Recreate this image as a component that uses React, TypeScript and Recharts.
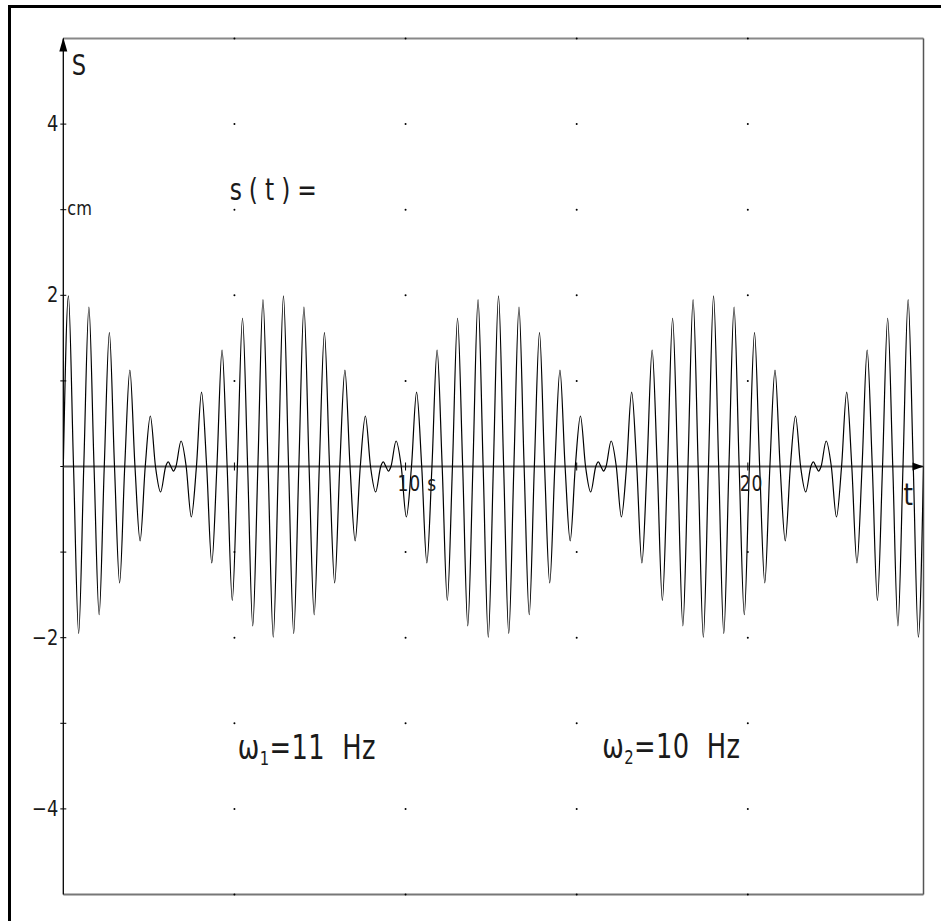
import React from 'react';
import { LineChart, Line, XAxis, YAxis, ReferenceLine, ReferenceDot } from 'recharts';

// s(t): zero crossings and extremes, one array per beat
const beat1T = [0.000, 0.150, 0.299, 0.449, 0.598, 0.748, 0.898, 1.047, 1.197, 1.346, 1.496, 1.646, 1.795, 1.945, 2.094, 2.244, 2.394, 2.543, 2.693, 2.842, 2.992, 3.067, 3.142, 3.216, 3.291, 3.441, 3.590, 3.740, 3.890, 4.039, 4.189, 4.338, 4.488, 4.638, 4.787, 4.937, 5.086, 5.236, 5.386, 5.535, 5.685, 5.834, 5.984, 6.134];
const beat1S = [0, 1.994, 0, -1.950, 0, 1.862, 0, -1.732, 0, 1.564, 0, -1.360, 0, 1.127, 0, -0.868, 0, 0.590, 0, -0.298, 0, 0.053, 0, -0.053, 0, 0.298, 0, -0.590, 0, 0.868, 0, -1.127, 0, 1.360, 0, -1.564, 0, 1.732, 0, -1.862, 0, 1.950, 0, -1.994];

const beat2T = [6.283, 6.433, 6.582, 6.732, 6.882, 7.031, 7.181, 7.330, 7.480, 7.630, 7.779, 7.929, 8.078, 8.228, 8.378, 8.527, 8.677, 8.826, 8.976, 9.126, 9.275, 9.350, 9.425, 9.499, 9.574, 9.724, 9.874, 10.023, 10.173, 10.322, 10.472, 10.622, 10.771, 10.921, 11.070, 11.220, 11.370, 11.519, 11.669, 11.818, 11.968, 12.118, 12.267, 12.417];
const beat2S = [0, 1.994, 0, -1.950, 0, 1.862, 0, -1.732, 0, 1.564, 0, -1.360, 0, 1.127, 0, -0.868, 0, 0.590, 0, -0.298, 0, 0.053, 0, -0.053, 0, 0.298, 0, -0.590, 0, 0.868, 0, -1.127, 0, 1.360, 0, -1.564, 0, 1.732, 0, -1.862, 0, 1.950, 0, -1.994];

const beat3T = [12.566, 12.716, 12.866, 13.015, 13.165, 13.314, 13.464, 13.614, 13.763, 13.913, 14.062, 14.212, 14.362, 14.511, 14.661, 14.810, 14.960, 15.110, 15.259, 15.409, 15.558, 15.633, 15.708, 15.783, 15.858, 16.007, 16.157, 16.306, 16.456, 16.606, 16.755, 16.905, 17.054, 17.204, 17.354, 17.503, 17.653, 17.802, 17.952, 18.102, 18.251, 18.401, 18.550, 18.700];
const beat3S = [0, 1.994, 0, -1.950, 0, 1.862, 0, -1.732, 0, 1.564, 0, -1.360, 0, 1.127, 0, -0.868, 0, 0.590, 0, -0.298, 0, 0.053, 0, -0.053, 0, 0.298, 0, -0.590, 0, 0.868, 0, -1.127, 0, 1.360, 0, -1.564, 0, 1.732, 0, -1.862, 0, 1.950, 0, -1.994];

const beat4T = [18.850, 18.999, 19.149, 19.298, 19.448, 19.598, 19.747, 19.897, 20.046, 20.196, 20.346, 20.495, 20.645, 20.794, 20.944, 21.094, 21.243, 21.393, 21.542, 21.692, 21.842, 21.916, 21.991, 22.066, 22.141, 22.290, 22.440, 22.590, 22.739, 22.889, 23.038, 23.188, 23.338, 23.487, 23.637, 23.786, 23.936, 24.086, 24.235, 24.385, 24.534, 24.684, 24.834, 24.983, 25.133];
const beat4S = [0, 1.994, 0, -1.950, 0, 1.862, 0, -1.732, 0, 1.564, 0, -1.360, 0, 1.127, 0, -0.868, 0, 0.590, 0, -0.298, 0, 0.053, 0, -0.053, 0, 0.298, 0, -0.590, 0, 0.868, 0, -1.127, 0, 1.360, 0, -1.564, 0, 1.732, 0, -1.862, 0, 1.950, 0, -1.994, 0];

// axes
const T_END = 25.133;
const yTicks = [-4, -3, -2, -1, 0, 1, 2, 3, 4];
const yTickLabels = ['\u22124', '', '\u22122', '', '', '', '2', 'cm', '4'];
const xTicks = [5, 10, 15, 20];
const xTickLabels = ['', '10 s', '', '20'];
const gridLevels = [-5, -4, -3, -2, -1, 1, 2, 3, 4, 5];

const FONT = "'DejaVu Sans', 'Liberation Sans', Arial, sans-serif";

const data = [
  ...beat1T.map((t, i) => ({ t, s: beat1S[i] })),
  ...beat2T.map((t, i) => ({ t, s: beat2S[i] })),
  ...beat3T.map((t, i) => ({ t, s: beat3S[i] })),
  ...beat4T.map((t, i) => ({ t, s: beat4S[i] })),
];

// narrow plotter-like lettering: DejaVu squeezed horizontally
const Txt = ({ x, y, size, anchor = 'start', spacing = 0, sx = 0.78, children }: any) => (
  <text
    transform={`translate(${x},${y}) scale(${sx},1)`}
    textAnchor={anchor}
    fontFamily={FONT}
    fontSize={size}
    letterSpacing={spacing}
    fill="#1a1a1a"
  >
    {children}
  </text>
);

const textAt = (content: React.ReactNode, size: number, spacing = 0) => (p: any) => (
  <Txt x={p.cx} y={p.cy} size={size} spacing={spacing}>
    {content}
  </Txt>
);

export default function App() {
  return (
    <div style={{ position: 'fixed', left: 0, top: 0, width: 941, height: 921, overflow: 'hidden', background: '#fff' }}>
      <div
        style={{
          position: 'absolute',
          left: 8,
          top: 5,
          width: 933,
          height: 916,
          boxSizing: 'border-box',
          borderLeft: '3px solid #000',
          borderTop: '3px solid #000',
        }}
      />
      <div style={{ position: 'absolute', left: 0, top: 0 }}>
        <LineChart width={941} height={921} data={data} margin={{ top: 38.5, right: 17.5, bottom: 26.5, left: 63.3 }}>
          <XAxis dataKey="t" type="number" domain={[0, T_END]} allowDataOverflow hide />
          <YAxis type="number" domain={[-5, 5]} allowDataOverflow hide />

          {/* box */}
          <ReferenceLine y={5} stroke="#888" strokeWidth={1.8} />
          <ReferenceLine y={-5} stroke="#777" strokeWidth={2} />
          <ReferenceLine x={T_END} stroke="#555" strokeWidth={1.5} />

          {/* dotted grid */}
          {xTicks.map((t) =>
            gridLevels.map((lv) => (
              <ReferenceDot key={`g${t}_${lv}`} x={t} y={lv} r={1} fill="#000" stroke="none" />
            ))
          )}

          {/* s axis */}
          <ReferenceLine x={0} stroke="#000" strokeWidth={1.3} />
          {yTicks.map((v, i) => (
            <ReferenceDot
              key={`yt${v}`}
              x={0}
              y={v}
              r={0}
              shape={(p: any) => (
                <g>
                  <line x1={p.cx - 3} x2={v === 0 ? p.cx : p.cx + 3} y1={p.cy} y2={p.cy} stroke="#000" strokeWidth={1} />
                  {yTickLabels[i] === 'cm' ? (
                    <Txt x={p.cx + 4} y={p.cy + 5} size={19} sx={0.85}>cm</Txt>
                  ) : yTickLabels[i] ? (
                    <Txt x={p.cx - 5} y={p.cy + 7} size={21} sx={0.85} anchor="end">{yTickLabels[i]}</Txt>
                  ) : null}
                </g>
              )}
            />
          ))}

          {/* t axis */}
          <ReferenceLine y={0} stroke="#555" strokeWidth={2} />
          {xTicks.map((t, i) => (
            <ReferenceDot
              key={`xt${t}`}
              x={t}
              y={0}
              r={0}
              shape={(p: any) => (
                <g>
                  <line x1={p.cx} x2={p.cx} y1={p.cy - 4} y2={p.cy + 4} stroke="#000" strokeWidth={1} />
                  {xTickLabels[i] && (
                    <Txt x={p.cx - 8} y={p.cy + 24} size={22} spacing={1}>{xTickLabels[i]}</Txt>
                  )}
                </g>
              )}
            />
          ))}

          <Line
            type="monotone"
            dataKey="s"
            stroke="#000"
            strokeWidth={1.2}
            dot={false}
            activeDot={false}
            isAnimationActive={false}
          />

          {/* arrow heads */}
          <ReferenceDot
            x={0}
            y={5}
            r={0}
            shape={(p: any) => (
              <polygon points={`${p.cx},${p.cy - 1} ${p.cx - 4},${p.cy + 13} ${p.cx + 4},${p.cy + 13}`} fill="#000" />
            )}
          />
          <ReferenceDot
            x={T_END}
            y={0}
            r={0}
            shape={(p: any) => (
              <polygon points={`${p.cx},${p.cy} ${p.cx - 11},${p.cy - 4} ${p.cx - 11},${p.cy + 4}`} fill="#000" />
            )}
          />

          {/* axis names and notes */}
          <ReferenceDot x={0.25} y={4.57} r={0} shape={textAt('S', 29)} />
          <ReferenceDot x={24.55} y={-0.45} r={0} shape={textAt('t', 31)} />
          <ReferenceDot x={4.86} y={3.11} r={0} shape={textAt('s(t)=', 30, 9)} />
          <ReferenceDot
            x={5.1}
            y={-3.42}
            r={0}
            shape={textAt(
              <>
                <tspan>ω</tspan>
                <tspan dy={6} fontSize={19}>1</tspan>
                <tspan dy={-6}>{'=11\u00a0\u00a0Hz'}</tspan>
              </>,
              33,
              0.5
            )}
          />
          <ReferenceDot
            x={15.75}
            y={-3.4}
            r={0}
            shape={textAt(
              <>
                <tspan>ω</tspan>
                <tspan dy={6} fontSize={19}>2</tspan>
                <tspan dy={-6}>{'=10\u00a0\u00a0Hz'}</tspan>
              </>,
              33,
              0.5
            )}
          />
        </LineChart>
      </div>
    </div>
  );
}
